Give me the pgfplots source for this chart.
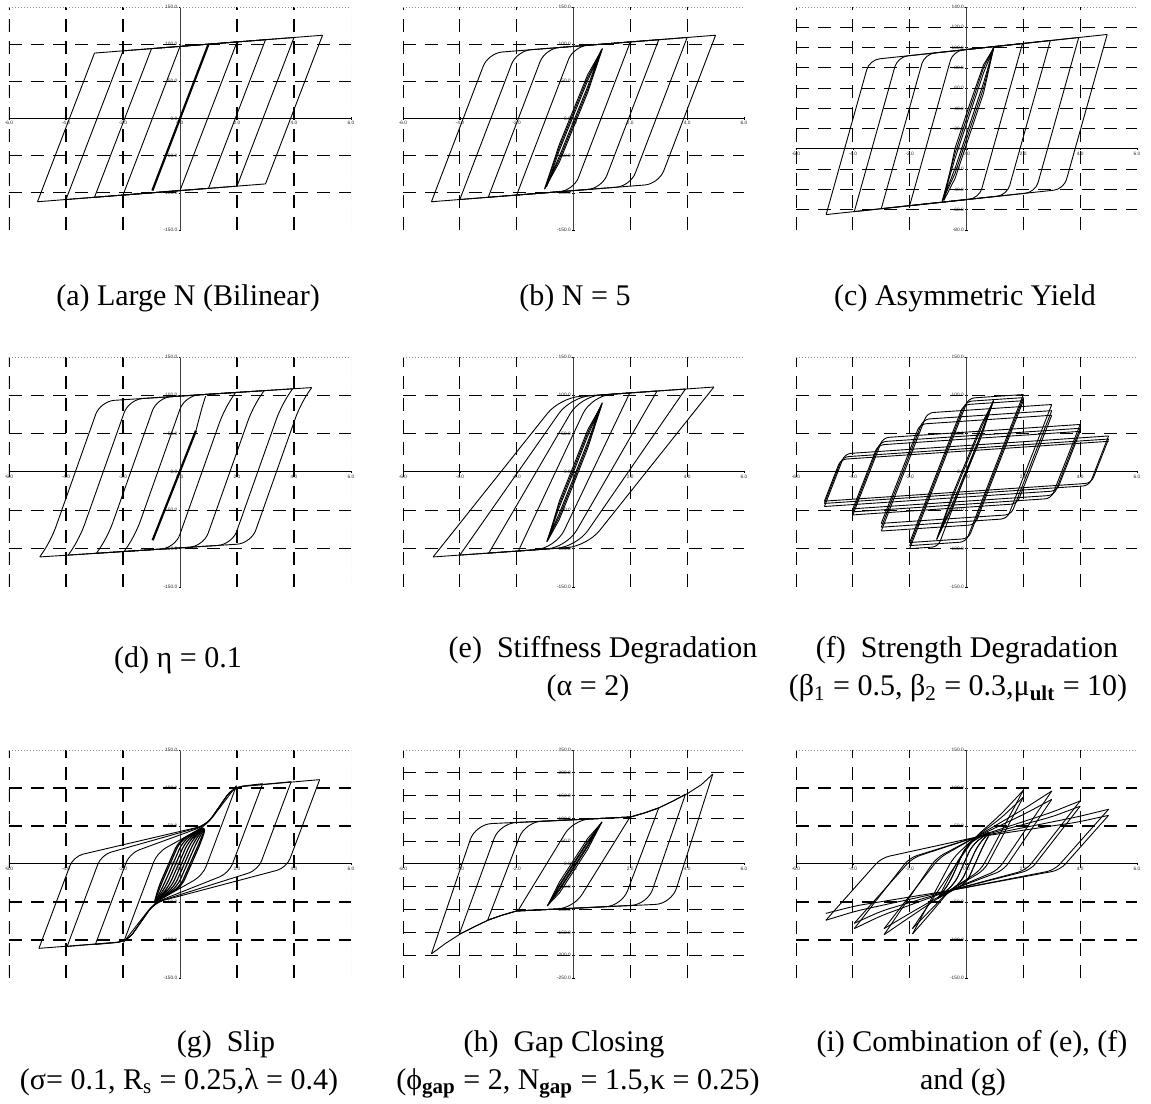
\documentclass[border=0pt]{standalone}
\usepackage{fontspec}
\setmainfont{Liberation Serif}
\newfontfamily\ticksans{Liberation Sans}
\newfontfamily\capserif{Liberation Serif}
\usepackage{pgfplots}
\pgfplotsset{compat=1.18}
\pgfplotsset{
  panel/.style={
    scale only axis,
    anchor=south west,
    axis lines=middle,
    x axis line style={-, black, line width=0.5pt},
    y axis line style={-, black!75, line width=0.5pt},
    enlargelimits=false,
    xmin=-6, xmax=6,
    xtick={-6,-4,-2,0,2,4,6},
    hide obscured x ticks=false,
    hide obscured y ticks=false,
    major tick length=1.2pt,
    tick style={black, line width=0.3pt},
    tick label style={font=\ticksans\fontsize{2.4}{2.6}\selectfont, text=black!85, inner sep=0.6pt},
    /pgf/number format/fixed,
    /pgf/number format/fixed zerofill,
    /pgf/number format/precision=1,
    /pgf/number format/assume math mode=true,
  },
  hyst/.style={black, line width=0.45pt, line join=round},
  boldl/.style={black, line width=1.1pt, line join=round},
}
\tikzset{
  gridl/.style={black, line width=0.55pt, dash pattern=on 6.5pt off 4.5pt},
  framel/.style={black!45, line width=0.4pt, dash pattern=on 0.6pt off 0.9pt},
}
\newcommand{\pgrid}[6]{%
  \pgfplotsinvokeforeach{#1}{\draw[gridl] (axis cs:##1,#5) -- (axis cs:##1,#6);}%
  \pgfplotsinvokeforeach{#2}{\draw[gridl] (axis cs:#3,##1) -- (axis cs:#4,##1);}%
  \draw[framel] (axis cs:#3,#6) -- (axis cs:#4,#6) -- (axis cs:#4,#5) -- (axis cs:#3,#5);%
}
\newcommand{\capfont}{\capserif\fontsize{15}{18}\selectfont}
\begin{document}
\begin{tikzpicture}
\useasboundingbox (0,0) rectangle (575.5pt,551.5pt);

% (a) Large N (Bilinear)
\begin{axis}[panel, at={(4.5pt,436.5pt)}, width=171pt, height=111.5pt,
  ymin=-150, ymax=150, ytick={-150,-100,...,150}]
\pgrid{-6,-4,-2,2,4}{-100,-50,50,100}{-6}{6}{-150}{150}
\addplot[hyst] coordinates {(5,112) (3,-88) (-5,-112)};
\addplot[hyst] coordinates {(-5,-112) (-3,88) (5,112)};
\addplot[hyst] coordinates {(4,109) (2,-91) (-4,-109)};
\addplot[hyst] coordinates {(-4,-109) (-2,91) (4,109)};
\addplot[hyst] coordinates {(3,106) (1,-94) (-3,-106)};
\addplot[hyst] coordinates {(-3,-106) (-1,94) (3,106)};
\addplot[hyst] coordinates {(2,103) (0,-97) (-2,-103)};
\addplot[hyst] coordinates {(-2,-103) (0,97) (2,103)};
\addplot[boldl] coordinates {(-0.97,-97) (0.99,99)};
\end{axis}

% (b) N = 5
\begin{axis}[panel, at={(201.5pt,436.5pt)}, width=170.5pt, height=111.5pt,
  ymin=-150, ymax=150, ytick={-150,-100,...,150}]
\pgrid{-6,-4,-2,2,4}{-100,-50,50,100}{-6}{6}{-150}{150}
\addplot[hyst, rounded corners=7pt] coordinates {(5,112) (3,-88) (-5,-112)};
\addplot[hyst, rounded corners=7pt] coordinates {(-5,-112) (-3,88) (5,112)};
\addplot[hyst, rounded corners=7pt] coordinates {(4,109) (2,-91) (-4,-109)};
\addplot[hyst, rounded corners=7pt] coordinates {(-4,-109) (-2,91) (4,109)};
\addplot[hyst, rounded corners=7pt] coordinates {(3,106) (1,-94) (-3,-106)};
\addplot[hyst, rounded corners=7pt] coordinates {(-3,-106) (-1,94) (3,106)};
\addplot[hyst, rounded corners=7pt] coordinates {(2,103) (0,-97) (-2,-103)};
\addplot[hyst, rounded corners=7pt] coordinates {(-2,-103) (0,97) (2,103)};
\addplot[hyst] coordinates {(-0.95,-92) (-0.5,-51) (0,-4) (0.5,43) (0.98,92) (0.5,51) (0,4) (-0.5,-43) (-0.95,-92)};
\addplot[hyst] coordinates {(-1,-94) (-0.5,-55) (0,-8) (0.5,39) (1,93) (0.5,55) (0,8) (-0.5,-39) (-1,-94)};
\addplot[hyst] coordinates {(-1.02,-95) (-0.5,-59) (0,-12) (0.5,35) (1.02,94) (0.5,59) (0,12) (-0.5,-35) (-1.02,-95)};
\end{axis}

% (c) Asymmetric Yield
\begin{axis}[panel, at={(398pt,436.5pt)}, width=170.5pt, height=111.5pt,
  ymin=-80, ymax=140, ytick={-80,-60,...,140}]
\pgrid{-6,-4,-2,2,4}{-60,-40,-20,20,40,60,80,100,120}{-6}{6}{-80}{140}
\addplot[hyst, rounded corners=5pt] coordinates {(4.95,112.9) (3.424,-39.7) (-4.94,-64.8)};
\addplot[hyst, rounded corners=5pt] coordinates {(-4.94,-64.8) (-3.414,87.8) (4.95,112.9)};
\addplot[hyst, rounded corners=5pt] coordinates {(3.95,109.9) (2.424,-42.7) (-3.95,-61.9)};
\addplot[hyst, rounded corners=5pt] coordinates {(-3.95,-61.9) (-2.424,90.7) (3.95,109.9)};
\addplot[hyst, rounded corners=5pt] coordinates {(2.95,106.9) (1.424,-45.7) (-3.0,-59)};
\addplot[hyst, rounded corners=5pt] coordinates {(-3.0,-59) (-1.474,93.6) (2.95,106.9)};
\addplot[hyst, rounded corners=5pt] coordinates {(1.97,103.9) (0.444,-48.7) (-2.0,-56)};
\addplot[hyst, rounded corners=5pt] coordinates {(-2.0,-56) (-0.474,96.6) (1.97,103.9)};
\addplot[hyst] coordinates {(-0.84,-51) (-0.4,-19) (0.1,23) (0.6,65) (0.97,101) (0.6,75) (0.1,33) (-0.4,-9) (-0.84,-51)};
\addplot[hyst] coordinates {(-0.86,-52) (-0.4,-24) (0.1,18) (0.6,60) (0.97,101) (0.6,80) (0.1,38) (-0.4,-4) (-0.86,-52)};
\addplot[hyst] coordinates {(-0.8,-51) (-0.4,-29) (0.1,13) (0.6,55) (0.95,99) (0.6,83) (0.1,43) (-0.4,1) (-0.8,-51)};
\end{axis}

% (d) eta = 0.1
\begin{axis}[panel, at={(4.5pt,258pt)}, width=171pt, height=115pt,
  ymin=-150, ymax=150, ytick={-150,-100,...,150}]
\pgrid{-6,-4,-2,2,4}{-100,-50,50,100}{-6}{6}{-150}{150}
\addplot[hyst, rounded corners=7pt] coordinates {(4.62,110.1) (4.22,88.1) (2.495,-93.0) (-4.92,-110.8)};
\addplot[hyst, rounded corners=7pt] coordinates {(-4.92,-110.8) (-4.52,-88.8) (-2.795,92.3) (4.62,110.1)};
\addplot[hyst, rounded corners=7pt] coordinates {(3.95,108.5) (3.55,86.5) (1.825,-94.6) (-3.92,-108.4)};
\addplot[hyst, rounded corners=7pt] coordinates {(-3.92,-108.4) (-3.52,-86.4) (-1.795,94.7) (3.95,108.5)};
\addplot[hyst, rounded corners=7pt] coordinates {(2.95,106.1) (2.55,84.1) (0.825,-97.0) (-2.93,-106.0)};
\addplot[hyst, rounded corners=7pt] coordinates {(-2.93,-106.0) (-2.53,-84.0) (-0.805,97.1) (2.95,106.1)};
\addplot[hyst, rounded corners=7pt] coordinates {(1.95,103.7) (1.55,81.7) (-0.175,-99.4) (-1.96,-103.7)};
\addplot[hyst, rounded corners=7pt] coordinates {(-1.96,-103.7) (-1.56,-81.7) (0.165,99.4) (1.95,103.7)};
\addplot[boldl] coordinates {(-0.96,-89) (0.56,54)};
\addplot[hyst, rounded corners=4pt] coordinates {(0.56,54) (0.8,88) (0.9,99)};
\end{axis}

% (e) Stiffness degradation
\begin{axis}[panel, at={(201.5pt,258pt)}, width=170.5pt, height=115pt,
  ymin=-150, ymax=150, ytick={-150,-100,...,150}]
\pgrid{-6,-4,-2,2,4}{-100,-50,50,100}{-6}{6}{-150}{150}
\addplot[hyst, rounded corners=10pt] coordinates {(4.94,110.8) (0.48,-96.8) (-4.94,-110.8)};
\addplot[hyst, rounded corners=10pt] coordinates {(-4.94,-110.8) (-0.48,96.8) (4.94,110.8)};
\addplot[hyst, rounded corners=10pt] coordinates {(3.94,108.2) (0.11,-97.7) (-4,-108.4)};
\addplot[hyst, rounded corners=10pt] coordinates {(-4,-108.4) (-0.11,97.7) (3.94,108.2)};
\addplot[hyst, rounded corners=10pt] coordinates {(2.94,105.6) (-0.24,-98.6) (-3,-105.8)};
\addplot[hyst, rounded corners=10pt] coordinates {(-2.98,-105.7) (0.24,98.6) (2.94,105.6)};
\addplot[hyst, rounded corners=10pt] coordinates {(1.98,103.1) (-0.63,-99.6) (-1.94,-103)};
\addplot[hyst, rounded corners=10pt] coordinates {(-1.94,-103) (0.63,99.6) (1.98,103.1)};
\addplot[hyst] coordinates {(-0.94,-91) (-0.5,-54) (0,-8) (0.5,39) (1.01,90) (0.5,47) (0,0) (-0.5,-46) (-0.94,-91)};
\addplot[hyst] coordinates {(-0.94,-91) (-0.5,-58) (0,-12) (0.5,35) (1.01,90) (0.5,51) (0,4) (-0.5,-42) (-0.94,-91)};
\addplot[hyst] coordinates {(-0.9,-89) (-0.5,-62) (0,-16) (0.5,31) (1.0,88) (0.5,55) (0,8) (-0.5,-38) (-0.9,-89)};
\end{axis}

% (f) Strength degradation
\begin{axis}[panel, at={(398pt,258pt)}, width=170.5pt, height=115pt,
  ymin=-150, ymax=150, ytick={-150,-100,...,150}]
\pgrid{-6,-4,-2,2,4}{-100,-50,50,100}{-6}{6}{-150}{150}
\addplot[hyst] coordinates {(-1.05,-88) (-0.5,-42) (0,3) (0.5,48) (0.95,93) (0.5,56) (0,11) (-0.5,-34) (-1.05,-88)};
\addplot[hyst] coordinates {(-1.05,-88) (-0.5,-46) (0,-1) (0.5,44) (0.95,93) (0.5,60) (0,15) (-0.5,-30) (-1.05,-88)};
\addplot[hyst, rounded corners=3pt] coordinates {(0.95,93) (-1.0,-97.5) (-2,-100)};
\addplot[hyst, rounded corners=3pt] coordinates {(-2,-100) (0.07,96.2) (2,101)};
\addplot[hyst, rounded corners=3pt] coordinates {(2,101) (-0.02,-91.1) (-2,-96)};
\addplot[hyst, rounded corners=3pt] coordinates {(-2,-96) (-0.02,92) (2,97)};
\addplot[hyst, rounded corners=3pt] coordinates {(2,97) (0.07,-86.8) (-2,-92)};
\addplot[hyst, rounded corners=3pt] coordinates {(-2,-92) (-0.11,87.7) (2,93)};
\addplot[hyst, rounded corners=3pt] coordinates {(2,93) (0.3,-68.8) (-3,-77)};
\addplot[hyst, rounded corners=3pt] coordinates {(-3,-77) (-1.38,77.1) (3,88)};
\addplot[hyst, rounded corners=3pt] coordinates {(3,88) (1.43,-60.9) (-3,-72)};
\addplot[hyst, rounded corners=3pt] coordinates {(-3,-72) (-1.52,68.7) (3,80)};
\addplot[hyst, rounded corners=3pt] coordinates {(3,80) (1.57,-55.6) (-3,-67)};
\addplot[hyst, rounded corners=3pt] coordinates {(-3,-67) (-1.64,62.4) (3,74)};
\addplot[hyst, rounded corners=3pt] coordinates {(3,74) (1.78,-41.5) (-4,-56)};
\addplot[hyst, rounded corners=3pt] coordinates {(-4,-56) (-2.94,44.7) (4,62)};
\addplot[hyst, rounded corners=3pt] coordinates {(4,62) (2.98,-34.5) (-4,-52)};
\addplot[hyst, rounded corners=3pt] coordinates {(-4,-52) (-3.04,39.4) (4,57)};
\addplot[hyst, rounded corners=3pt] coordinates {(4,57) (3.08,-30.3) (-4,-48)};
\addplot[hyst, rounded corners=3pt] coordinates {(-4,-48) (-3.12,35.2) (4,53)};
\addplot[hyst, rounded corners=3pt] coordinates {(4,53) (3.18,-24.6) (-5,-45)};
\addplot[hyst, rounded corners=3pt] coordinates {(-5,-45) (-4.28,23.8) (5,47)};
\addplot[hyst, rounded corners=3pt] coordinates {(5,47) (4.32,-17.7) (-5,-41)};
\addplot[hyst, rounded corners=3pt] coordinates {(-5,-41) (-4.36,19.6) (5,43)};
\addplot[hyst, rounded corners=3pt] coordinates {(5,43) (4.39,-14.5) (-5,-38)};
\addplot[hyst, rounded corners=3pt] coordinates {(-5,-38) (-4.43,16.4) (5,40)};
\end{axis}

% (g) Slip
\begin{axis}[panel, at={(4.5pt,62.5pt)}, width=171pt, height=114pt,
  ymin=-150, ymax=150, ytick={-150,-100,...,150}]
\pgrid{-6,-4,-2,2,4}{-100,-50,50,100}{-6}{6}{-150}{150}
\addplot[hyst, rounded corners=5pt] coordinates {(4.9,111) (3.74,-5) (-0.9,-51) (-1.85,-102) (-4.95,-111)};
\addplot[hyst, rounded corners=5pt] coordinates {(-4.95,-111) (-3.74,10) (0.93,51) (1.85,101) (4.9,111)};
\addplot[hyst, rounded corners=5pt] coordinates {(3.9,108.3) (2.74,-8) (-0.9,-51) (-1.85,-102) (-3.96,-108.5)};
\addplot[hyst, rounded corners=5pt] coordinates {(-3.96,-108.5) (-2.76,12) (0.93,51) (1.85,101) (3.9,108.3)};
\addplot[hyst, rounded corners=5pt] coordinates {(2.9,105.7) (1.72,-12) (-0.9,-51) (-1.85,-102) (-2.97,-105.9)};
\addplot[hyst, rounded corners=5pt] coordinates {(-2.97,-105.9) (-1.77,14) (0.93,51) (1.85,101) (2.9,105.7)};
\addplot[hyst, rounded corners=5pt] coordinates {(1.98,103) (0.8,-15) (-0.9,-51) (-1.98,-103)};
\addplot[hyst, rounded corners=5pt] coordinates {(-1.98,-103) (-0.8,15) (0.93,51) (1.98,103)};
\addplot[hyst, line width=0.6pt, rounded corners=4pt] coordinates {(-0.9,-51) (-0.7,-30) (0,30) (0.93,51) (0.7,30) (0,-30) (-0.9,-51)};
\addplot[hyst, line width=0.6pt, rounded corners=4pt] coordinates {(-0.9,-51) (-0.5,-30) (0.2,30) (0.93,51) (0.5,30) (-0.2,-30) (-0.9,-51)};
\addplot[hyst, line width=0.6pt, rounded corners=4pt] coordinates {(-0.9,-51) (-0.3,-30) (0.4,30) (0.93,51) (0.3,30) (-0.4,-30) (-0.9,-51)};
\addplot[hyst, line width=0.6pt, rounded corners=4pt] coordinates {(-0.9,-51) (-0.1,-30) (0.6,30) (0.93,51) (0.1,30) (-0.6,-30) (-0.9,-51)};
\addplot[hyst, line width=0.6pt, rounded corners=4pt] coordinates {(-0.9,-51) (0.05,-30) (0.75,30) (0.93,51) (-0.05,30) (-0.75,-30) (-0.9,-51)};
\end{axis}

% (h) Gap closing
\begin{axis}[panel, at={(201.5pt,62.5pt)}, width=170.5pt, height=114pt,
  ymin=-250, ymax=250, ytick={-250,-200,...,250}]
\pgrid{-6,-4,-2,2,4}{-200,-150,-100,-50,50,100,150,200}{-6}{6}{-250}{250}
\addplot[hyst, rounded corners=8pt] coordinates {(4.9,197) (3.45,-87) (-2,-103)};
\addplot[hyst] coordinates {(-2,-103) (-2.5,-112) (-3,-123) (-3.5,-138) (-4,-154) (-4.5,-174) (-5,-197)};
\addplot[hyst, rounded corners=8pt] coordinates {(-5,-197) (-3.45,87) (2,103)};
\addplot[hyst] coordinates {(2,103) (2.5,112) (3,123) (3.5,138) (4,154) (4.5,174) (4.9,197)};
\addplot[hyst, rounded corners=8pt] coordinates {(3.94,153) (2.6,-89) (-2,-103)};
\addplot[hyst] coordinates {(-2,-103) (-2.5,-112) (-3,-123) (-3.5,-138) (-4.02,-154)};
\addplot[hyst, rounded corners=8pt] coordinates {(-4.02,-154) (-2.6,89) (2,103)};
\addplot[hyst] coordinates {(2,103) (2.5,112) (3,123) (3.5,138) (3.94,153)};
\addplot[hyst, rounded corners=8pt] coordinates {(3,123) (1.7,-92) (-2,-103)};
\addplot[hyst] coordinates {(-2,-103) (-2.5,-112) (-3.02,-123)};
\addplot[hyst, rounded corners=8pt] coordinates {(-3.02,-123) (-1.7,92) (2,103)};
\addplot[hyst] coordinates {(2,103) (2.5,112) (3,123)};
\addplot[hyst, rounded corners=8pt] coordinates {(1.99,103) (0,-97) (-1.96,-103)};
\addplot[hyst, rounded corners=8pt] coordinates {(-1.96,-103) (0,97) (1.99,103)};
\addplot[hyst] coordinates {(-0.92,-92) (-0.5,-58) (0,-10) (0.5,38) (1.0,92) (0.5,50) (0,2) (-0.5,-46) (-0.92,-92)};
\addplot[hyst] coordinates {(-0.9,-90) (-0.5,-64) (0,-16) (0.5,32) (0.98,90) (0.5,56) (0,8) (-0.5,-40) (-0.9,-90)};
\addplot[hyst] coordinates {(-0.92,-92) (-0.5,-55) (0,-7) (0.5,41) (1.0,92) (0.5,47) (0,-1) (-0.5,-49) (-0.92,-92)};
\end{axis}

% (i) Combination
\begin{axis}[panel, at={(398pt,62.5pt)}, width=170.5pt, height=114pt,
  ymin=-150, ymax=150, ytick={-150,-100,...,150}]
\pgrid{-6,-4,-2,2,4}{-100,-50,50,100}{-6}{6}{-150}{150}
\addplot[hyst, rounded corners=4pt] coordinates {(-1,-45) (-0.6,-25) (0,25) (0.9,45) (0.6,25) (0,-25) (-1,-45)};
\addplot[hyst, rounded corners=4pt] coordinates {(-1,-45) (-0.4,-25) (0.2,25) (0.9,45) (0.4,25) (-0.2,-25) (-1,-45)};
\addplot[hyst, rounded corners=4pt] coordinates {(-1,-45) (-0.2,-25) (0.4,25) (0.9,45) (0.2,25) (-0.4,-25) (-1,-45)};
\addplot[hyst, rounded corners=4pt] coordinates {(-1,-45) (0,-25) (0.6,25) (0.9,45) (0,25) (-0.6,-25) (-1,-45)};
\addplot[hyst, rounded corners=4pt] coordinates {(-1,-45) (-0.25,8) (0.3,35) (1.2,65) (2,97)};
\addplot[hyst, rounded corners=4pt] coordinates {(2,97) (0.5,-8) (-0.6,-35) (-1.2,-62) (-1.9,-92)};
\addplot[hyst, rounded corners=4pt] coordinates {(-1.9,-92) (-0.47,8) (0.3,35) (1.2,60) (2,88)};
\addplot[hyst, rounded corners=4pt] coordinates {(2,88) (0.63,-8) (-0.6,-35) (-1.2,-58) (-1.9,-85)};
\addplot[hyst, rounded corners=4pt] coordinates {(-1.9,-85) (-0.21,8) (0.3,35) (2.0,72) (3,96)};
\addplot[hyst, rounded corners=4pt] coordinates {(3,96) (1.11,-8) (-0.6,-35) (-2.0,-70) (-2.9,-93)};
\addplot[hyst, rounded corners=4pt] coordinates {(-2.9,-93) (-1.06,8) (0.3,35) (2.0,65) (3,85)};
\addplot[hyst, rounded corners=4pt] coordinates {(3,85) (1.31,-8) (-0.6,-35) (-2.0,-65) (-2.9,-85)};
\addplot[hyst, rounded corners=4pt] coordinates {(-2.9,-85) (-0.96,8) (0.3,35) (3.0,68) (4,83)};
\addplot[hyst, rounded corners=4pt] coordinates {(4,83) (2.1,-8) (-0.6,-35) (-3.0,-68) (-3.95,-85)};
\addplot[hyst, rounded corners=4pt] coordinates {(-3.95,-85) (-2.01,8) (0.3,35) (3.0,62) (4,76)};
\addplot[hyst, rounded corners=4pt] coordinates {(4,76) (2.25,-8) (-0.6,-35) (-3.0,-62) (-3.95,-78)};
\addplot[hyst, rounded corners=4pt] coordinates {(-3.95,-78) (-1.9,8) (0.3,35) (3.9,62) (5,72)};
\addplot[hyst, rounded corners=4pt] coordinates {(5,72) (3.1,-8) (-0.6,-35) (-3.9,-62) (-4.95,-74)};
\addplot[hyst, rounded corners=4pt] coordinates {(-4.95,-74) (-3.0,8) (0.3,35) (3.9,55) (5,64)};
\addplot[hyst, rounded corners=4pt] coordinates {(5,64) (3.29,-8) (-0.6,-35) (-3.9,-55) (-4.95,-65)};
\end{axis}

% captions
\node[anchor=base, font=\capfont] at (94pt,398.5pt) {(a) Large N (Bilinear)};
\node[anchor=base, font=\capfont] at (287.5pt,398.5pt) {(b) N = 5};
\node[anchor=base, font=\capfont] at (482.5pt,398.5pt) {(c) Asymmetric Yield};
\node[anchor=base, font=\capfont] at (89pt,217.5pt) {(d) η = 0.1};
\node[anchor=base, font=\capfont] at (301.5pt,222.5pt) {(e)\ \ Stiffness Degradation};
\node[anchor=base, font=\capfont] at (294pt,203.5pt) {(α = 2)};
\node[anchor=base, font=\capfont] at (483.5pt,222.5pt) {(f)\ \ Strength Degradation};
\node[anchor=base, font=\capfont] at (479pt,203.5pt) {(β\textsubscript{1} = 0.5, β\textsubscript{2} = 0.3,μ\textsubscript{\textbf{ult}} = 10)};
\node[anchor=base, font=\capfont] at (113pt,26pt) {(g)\ \ Slip};
\node[anchor=base, font=\capfont] at (89.5pt,7pt) {(σ= 0.1, R\textsubscript{s} = 0.25,λ = 0.4)};
\node[anchor=base, font=\capfont] at (282pt,26pt) {(h)\ \ Gap Closing};
\node[anchor=base, font=\capfont] at (289pt,7pt) {(ϕ\textsubscript{\textbf{gap}} = 2, N\textsubscript{\textbf{gap}} = 1.5,κ = 0.25)};
\node[anchor=base, font=\capfont] at (486pt,26pt) {(i) Combination of (e), (f)};
\node[anchor=base, font=\capfont] at (481.5pt,7pt) {and (g)};
\end{tikzpicture}
\end{document}
